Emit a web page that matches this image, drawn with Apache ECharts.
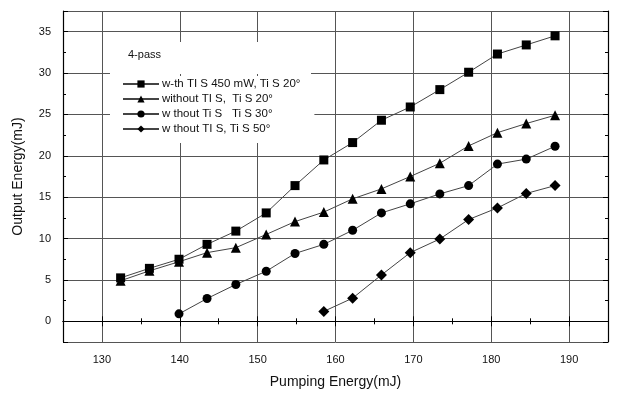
<!DOCTYPE html>
<html>
<head>
<meta charset="utf-8">
<script src="https://cdn.jsdelivr.net/npm/echarts@6/dist/echarts.min.js"></script>
<style>
  html, body { margin: 0; padding: 0; background: #fff; }
  #chart { width: 622px; height: 394px; }
</style>
</head>
<body>
<div id="chart"></div>
<script>
// pumping energy (mJ) at each measured point
var pumpEnergy = [132.4, 136.1, 139.9, 143.5, 147.2, 151.1, 154.8, 158.5, 162.2, 165.9, 169.6, 173.4, 177.1, 180.8, 184.5, 188.2];
// output energy (mJ)
var withTIS20 = [5.25, 6.4, 7.5, 9.3, 10.9, 13.1, 16.4, 19.5, 21.6, 24.3, 25.9, 28.0, 30.1, 32.3, 33.4, 34.5];
var withoutTIS20 = [4.9, 6.1, 7.2, 8.3, 8.9, 10.5, 12.05, 13.2, 14.8, 16.0, 17.5, 19.1, 21.2, 22.8, 23.9, 24.9];
var withoutTIS30 = [null, null, 0.9, 2.75, 4.45, 6.05, 8.2, 9.3, 11.0, 13.1, 14.2, 15.4, 16.4, 19.0, 19.6, 21.15];
var withoutTIS50 = [null, null, null, null, null, null, null, 1.2, 2.8, 5.6, 8.3, 9.95, 12.3, 13.7, 15.45, 16.4];
var seriesNames = ['w-th TI S 450 mW, Ti S 20°', 'without TI S,  Ti S 20°', 'w thout Ti S   Ti S 30°', 'w thout TI S, Ti S 50°'];

function pairs(ys) {
  var out = [];
  for (var i = 0; i < pumpEnergy.length; i++) {
    if (ys[i] !== null) out.push([pumpEnergy[i], ys[i]]);
  }
  return out;
}

var font = "'Liberation Sans', Arial, sans-serif";
var chart = echarts.init(document.getElementById('chart'));

function mkSeries(name, ys, symbol, size) {
  return {
    name: name,
    type: 'line',
    data: pairs(ys),
    symbol: symbol,
    symbolSize: size,
    showAllSymbol: true,
    animation: false,
    lineStyle: { color: '#444', width: 1 },
    itemStyle: { color: '#000' }
  };
}

var axisCommon = {
  axisLine: { show: true, lineStyle: { color: '#000', width: 1.2 } },
  axisTick: { show: true, inside: true, length: 5, lineStyle: { color: '#000' } },
  minorTick: { show: true, splitNumber: 2, length: 3, lineStyle: { color: '#000' } }
};

var option = {
  backgroundColor: '#fff',
  animation: false,
  grid: { left: 63, right: 14, top: 11, bottom: 52 },
  title: {
    text: '4-pass',
    left: 110, top: 42,
    padding: [7, 150, 14, 18],
    backgroundColor: '#fff',
    textStyle: { fontFamily: font, fontSize: 11, fontWeight: 'normal', color: '#111' }
  },
  legend: {
    orient: 'vertical',
    left: 110, top: 76,
    padding: [2, 14, 8, 12],
    itemGap: 3,
    itemWidth: 36,
    itemHeight: 9,
    backgroundColor: '#fff',
    textStyle: { fontFamily: font, fontSize: 11.5, color: '#111', padding: [0, 0, 0, -2] },
    data: seriesNames
  },
  xAxis: [
    Object.assign({
      type: 'value', min: 125, max: 195, splitNumber: 7,
      name: 'Pumping Energy(mJ)', nameLocation: 'middle', nameGap: 33,
      nameTextStyle: { fontFamily: font, fontSize: 14, color: '#111' },
      axisLabel: { fontFamily: font, fontSize: 11, color: '#111', margin: 12, showMinLabel: false, showMaxLabel: false },
      splitLine: { show: true, lineStyle: { color: '#555', width: 1 } }
    }, axisCommon),
    Object.assign({
      type: 'value', min: 125, max: 195, splitNumber: 7, position: 'top',
      axisLabel: { show: false }, splitLine: { show: false }
    }, axisCommon)
  ],
  yAxis: [
    Object.assign({
      type: 'value', min: -2.5, max: 37.5, splitNumber: 8,
      name: 'Output Energy(mJ)', nameLocation: 'middle', nameGap: 38,
      nameTextStyle: { fontFamily: font, fontSize: 14, color: '#111' },
      axisLabel: { fontFamily: font, fontSize: 11, color: '#111', margin: 12, showMinLabel: false, showMaxLabel: false },
      splitLine: { show: true, lineStyle: { color: '#555', width: 1 } }
    }, axisCommon),
    Object.assign({
      type: 'value', min: -2.5, max: 37.5, splitNumber: 8, position: 'right',
      axisLabel: { show: false }, splitLine: { show: false }
    }, axisCommon)
  ],
  series: [
    mkSeries(seriesNames[0], withTIS20, 'rect', 9),
    mkSeries(seriesNames[1], withoutTIS20, 'triangle', 10),
    mkSeries(seriesNames[2], withoutTIS30, 'circle', 9),
    mkSeries(seriesNames[3], withoutTIS50, 'diamond', 11)
  ]
};
chart.setOption(option);
</script>
</body>
</html>
